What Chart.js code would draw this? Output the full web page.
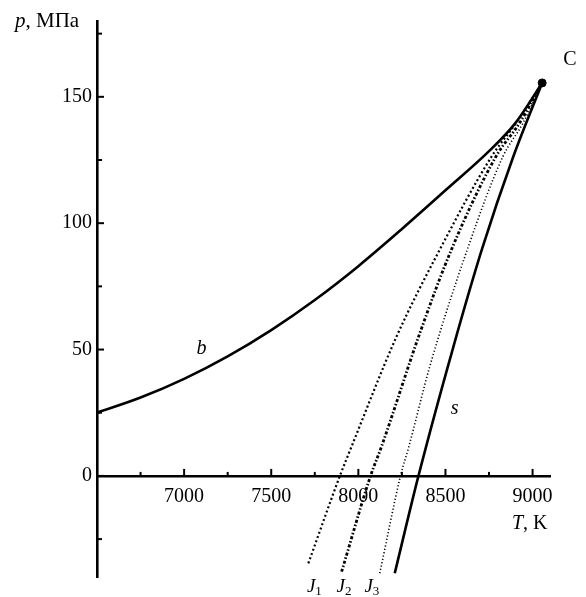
<!DOCTYPE html>
<html>
<head>
<meta charset="utf-8">
<script src="https://cdn.jsdelivr.net/npm/chart.js@4"></script>
<style>
  body { margin: 0; background: #fff; }
</style>
</head>
<body>
<canvas id="myChart" width="586" height="597"></canvas>
<script>
// boiling curve b (T in K, p in MPa)
const b_T = [6500, 6750, 7000, 7250, 7500, 7750, 8000, 8250, 8500, 8750, 8900, 9055];
const b_p = [25, 31, 38.4, 47.3, 57.7, 69.6, 83, 97.7, 113, 128.5, 139.5, 155.5];

// spinodal s
const s_T = [8209, 8345, 8543, 8710, 8890, 9055];
const s_p = [-38.5, 0, 50.5, 89.8, 126.5, 155.5];

// isolines J1, J2, J3
const j1_T = [7713, 7894, 7961, 8219, 8467, 8765, 8905, 9055];
const j1_p = [-34.6, 0, 11.6, 55.1, 89.5, 126.4, 139.6, 155.5];
const j2_T = [7904, 8070, 8133, 8353, 8534, 8790, 8925, 9055];
const j2_p = [-37.9, 0, 11.6, 56.5, 89.5, 126.4, 139.6, 155.5];
const j3_T = [8123, 8242, 8290, 8410, 8625, 8830, 8945, 9055];
const j3_p = [-38.5, 0, 11.6, 43.3, 89.5, 126.4, 139.6, 155.5];

// critical point C
const crit_T = 9055;
const crit_p = 155.5;

// ticks
const xTicks = [6750, 7000, 7250, 7500, 7750, 8000, 8250, 8500, 8750, 9000];
const xLabels = [7000, 7500, 8000, 8500, 9000];
const yTicks = [-25, 0, 25, 50, 75, 100, 125, 150, 175];
const yLabels = [0, 50, 100, 150];

const pts = (T, p) => T.map((t, i) => ({ x: t, y: p[i] }));
const serif = 'Liberation Serif';

const line = (data, width, dash) => ({
    data,
    showLine: true,
    borderColor: '#000',
    borderWidth: width,
    borderDash: dash,
    pointRadius: 0,
    cubicInterpolationMode: 'monotone',
    fill: false,
});

// inward tick marks, like the printed figure
const tickMarks = {
    id: 'tickMarks',
    afterDraw(chart) {
        const { ctx, chartArea, scales: { x, y } } = chart;
        const y0 = y.getPixelForValue(0);
        ctx.save();
        ctx.strokeStyle = '#000';
        ctx.lineWidth = 2;
        xTicks.forEach(v => {
            const px = x.getPixelForValue(v);
            const len = xLabels.includes(v) ? 7 : 4;
            ctx.beginPath();
            ctx.moveTo(px, y0);
            ctx.lineTo(px, y0 - len);
            ctx.stroke();
        });
        yTicks.forEach(v => {
            const py = y.getPixelForValue(v);
            const len = yLabels.includes(v) ? 7 : 5;
            ctx.beginPath();
            ctx.moveTo(chartArea.left, py);
            ctx.lineTo(chartArea.left + len, py);
            ctx.stroke();
        });
        ctx.restore();
    }
};

// axis names and curve labels
const labels = {
    id: 'labels',
    afterDraw(chart) {
        const { ctx, scales: { x, y } } = chart;
        ctx.save();
        ctx.fillStyle = '#000';
        ctx.textBaseline = 'middle';
        ctx.textAlign = 'left';

        // p, МПа
        ctx.font = `italic 21px "${serif}"`;
        ctx.fillText('p', 15, 21);
        let w = ctx.measureText('p').width;
        ctx.font = `21px "${serif}"`;
        ctx.fillText(', МПа', 15 + w, 21);

        // T, K
        ctx.font = `italic 20px "${serif}"`;
        ctx.fillText('T', 512, 524);
        w = ctx.measureText('T').width;
        ctx.font = `20px "${serif}"`;
        ctx.fillText(', K', 512 + w, 524);

        // C
        ctx.font = `20px "${serif}"`;
        ctx.fillText('C', x.getPixelForValue(crit_T) + 21, y.getPixelForValue(crit_p) - 23);

        // b and s
        ctx.font = `italic 20px "${serif}"`;
        ctx.textAlign = 'center';
        ctx.fillText('b', x.getPixelForValue(7100), y.getPixelForValue(50.5));
        ctx.fillText('s', x.getPixelForValue(8553), y.getPixelForValue(26.5));

        // J1 J2 J3
        [['1', 7745], ['2', 7915], ['3', 8075]].forEach(([n, t]) => {
            const px = x.getPixelForValue(t);
            ctx.font = `italic 19px "${serif}"`;
            ctx.textAlign = 'left';
            ctx.fillText('J', px - 7, 587);
            const jw = ctx.measureText('J').width;
            ctx.font = `13px "${serif}"`;
            ctx.fillText(n, px - 7 + jw, 592);
        });
        ctx.restore();
    }
};

const ctx = document.getElementById('myChart').getContext('2d');
const myChart = new Chart(ctx, {
    type: 'scatter',
    data: {
        datasets: [
            line(pts(b_T, b_p), 2.6, []),
            line(pts(s_T, s_p), 2.6, []),
            line(pts(j1_T, j1_p), 2.2, [2, 2.5]),
            line(pts(j2_T, j2_p), 2.8, [3, 2, 1.5, 2]),
            line(pts(j3_T, j3_p), 1.6, [1.2, 2.2]),
            {
                data: [{ x: crit_T, y: crit_p }],
                pointRadius: 4,
                pointBackgroundColor: '#000',
                pointBorderColor: '#000',
            },
        ]
    },
    options: {
        responsive: false,
        animation: false,
        layout: { padding: { left: 0, top: 21, right: 36, bottom: 20 } },
        plugins: {
            legend: { display: false },
            tooltip: { enabled: false },
        },
        scales: {
            x: {
                type: 'linear',
                min: 6500,
                max: 9100,
                position: { y: 0 },
                grid: { display: false, drawTicks: false },
                border: { display: true, color: '#000', width: 2.6 },
                afterBuildTicks: s => { s.ticks = xTicks.map(v => ({ value: v })); },
                ticks: {
                    autoSkip: false,
                    maxRotation: 0,
                    padding: 9,
                    color: '#000',
                    font: { family: serif, size: 20 },
                    callback: v => xLabels.includes(v) ? String(v) : '',
                },
            },
            y: {
                type: 'linear',
                min: -40,
                max: 180,
                grid: { display: false, drawTicks: false },
                border: { display: true, color: '#000', width: 2.6 },
                afterBuildTicks: s => { s.ticks = yTicks.map(v => ({ value: v })); },
                afterFit: s => { s.width = 97; },
                ticks: {
                    autoSkip: false,
                    padding: 5,
                    color: '#000',
                    font: { family: serif, size: 20 },
                    callback: v => yLabels.includes(v) ? String(v) : '',
                },
            },
        },
    },
    plugins: [tickMarks, labels],
});
</script>
</body>
</html>
